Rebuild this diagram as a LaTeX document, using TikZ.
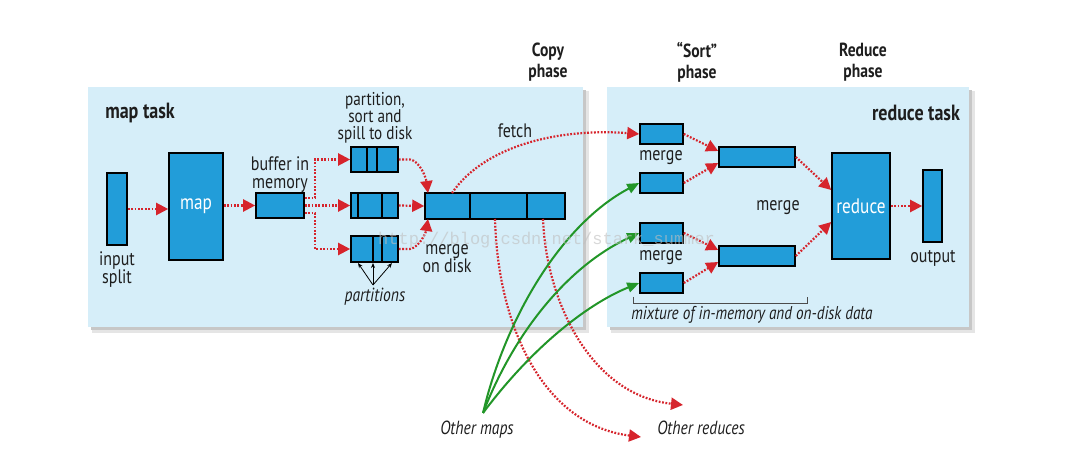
\documentclass[tikz,border=0pt]{standalone}
\usepackage{fontspec}
\setmainfont{PT Sans}[FakeStretch=0.82]
\newfontfamily\wmfont{Liberation Mono}
\usetikzlibrary{arrows.meta}
\definecolor{boxblue}{RGB}{34,157,217}
\definecolor{panel}{RGB}{214,238,249}
\definecolor{arrred}{RGB}{214,36,44}
\definecolor{arrgreen}{RGB}{34,150,40}
\definecolor{txt}{RGB}{30,30,30}
\tikzset{
  bx/.style={draw=black, line width=1.6pt, fill=boxblue, inner sep=0pt},
  lbl/.style={font=\fontsize{19.5}{18}\selectfont, text=txt, align=center, inner sep=0pt},
  lbli/.style={font=\fontsize{19}{18}\selectfont\itshape, text=txt, align=center, inner sep=0pt},
  ttl/.style={font=\fontsize{22}{22}\selectfont\bfseries, text=txt, align=center, inner sep=0pt},
  phs/.style={font=\fontsize{19}{21}\selectfont\bfseries, text=txt, align=center, inner sep=0pt},
  rd/.style={draw=arrred, line width=2.2pt, dash pattern=on 1.8pt off 1.6pt, -{Triangle[length=12pt,width=12pt]}},
  gr/.style={draw=arrgreen, line width=2pt, -{Triangle[length=12pt,width=10pt]}},
  pa/.style={draw=black, line width=0.8pt, -{Stealth[length=5pt,width=4pt]}},
}
\begin{document}
\begin{tikzpicture}[x=1pt,y=-1pt]
\useasboundingbox (0,0) rectangle (1069,457);
\fill[white] (0,0) rectangle (1069,457);
% panels with shadow
\fill[black!10] (92,91) rectangle (589,333);
\fill[black!22] (91,90) rectangle (586,330);
\fill[panel] (88,87) rectangle (583,327);
\fill[black!10] (611,91) rectangle (975,333);
\fill[black!22] (610,90) rectangle (972,330);
\fill[panel] (607,87) rectangle (969,327);

% titles
\node[ttl] (maptask) at (140,113) {map task};
\node[ttl] (redtask) at (916,113) {reduce task};
\node[phs] (copyph) at (548,62) {Copy\\phase};
\node[phs] (sortph) at (697,62) {“Sort”\\phase};
\node[phs] (redph) at (863,62) {Reduce\\phase};

% map side boxes
\node[bx, minimum width=20pt, minimum height=72pt] (input) at (117,209) {};
\node[bx, minimum width=54pt, minimum height=107pt, font=\fontsize{21}{21}\selectfont, text=white] (map) at (196,206.5) {map};
\node[bx, minimum width=48pt, minimum height=25pt] (buffer) at (280,205.5) {};
\node[bx, minimum width=47pt, minimum height=25pt] (sp1) at (374.5,159.5) {};
\node[bx, minimum width=47pt, minimum height=25pt] (sp2) at (374.5,205.5) {};
\node[bx, minimum width=47pt, minimum height=26pt] (sp3) at (374.5,249) {};
\draw[line width=1.6pt] (367,147) -- (367,172) (377,147) -- (377,172);
\draw[line width=1.6pt] (358,193) -- (358,218) (382,193) -- (382,218);
\draw[line width=1.6pt] (373,236) -- (373,262) (382,236) -- (382,262);
\node[bx, minimum width=140pt, minimum height=26pt] (mdisk) at (495,206) {};
\draw[line width=1.6pt] (470,193) -- (470,219) (527,193) -- (527,219);

% map side labels
\node[lbl] (inlbl) at (117,270) {input\\split};
\node[lbl] (buflbl) at (280,175) {buffer in\\memory};
\node[lbl, font=\fontsize{18.5}{17}\selectfont] (splbl) at (375,118) {partition,\\sort and\\spill to disk};
\node[lbl] (fetch) at (515,131) {fetch};
\node[lbl] (mdlbl) at (447,259) {merge\\on disk};
\node[lbli] (parts) at (375,297) {partitions};
\coordinate (pt) at (373,285);
\draw[pa] (pt) -- (358,263);
\draw[pa] (pt) -- (373,263);
\draw[pa] (pt) -- (392,263);

% map side arrows
\draw[rd] (input.east) -- (map.west |- input.east);
\draw[rd] (map.east |- buffer.east) -- (buffer.west);
\coordinate (b1) at (315,198);
\coordinate (b3) at (315,213);
\draw[rd] (buffer.east |- b1) -- (b1) -- (b1 |- sp1.west) -- (sp1.west);
\draw[rd] (buffer.east) -- (sp2.west);
\draw[rd] (buffer.east |- b3) -- (b3) -- (b3 |- sp3.west) -- (sp3.west);
\draw[rd] (sp1.east) -- (410,159.5) .. controls (420,161) and (426,178) .. (428,193);
\draw[rd] (sp2.east) -- (mdisk.west);
\draw[rd] (sp3.east) -- (410,249) .. controls (420,247) and (426,232) .. (428,219);

% reduce side boxes
\node[bx, minimum width=43pt, minimum height=20pt] (r1) at (661.5,134) {};
\node[bx, minimum width=43pt, minimum height=20pt] (r2) at (661.5,183) {};
\node[bx, minimum width=43pt, minimum height=20pt] (r3) at (661.5,233) {};
\node[bx, minimum width=43pt, minimum height=20pt] (r4) at (661.5,283) {};
\node[bx, minimum width=76pt, minimum height=20pt] (m1) at (757,157) {};
\node[bx, minimum width=76pt, minimum height=20pt] (m2) at (757,256) {};
\node[bx, minimum width=58pt, minimum height=106pt, font=\fontsize{21}{21}\selectfont, text=white] (reduce) at (861,206) {reduce};
\node[bx, minimum width=19pt, minimum height=72pt] (output) at (932.5,206) {};

\node[lbl] (mg1) at (661,158) {merge};
\node[lbl] (mg2) at (661,258) {merge};
\node[lbl] (mg3) at (778,208) {merge};
\node[lbl] (outlbl) at (933,258) {output};
\node[lbli, font=\fontsize{18.5}{18}\selectfont\itshape] (mix) at (752,315) {mixture of in-memory and on-disk data};
\draw[line width=0.8pt, black!70] (633,297) -- (633,303) -- (807,303) -- (807,297);

% reduce side arrows
\draw[rd] (r1.east) -- (m1.west |- 0,151);
\draw[rd] (r2.east) -- (m1.west |- 0,163);
\draw[rd] (r3.east) -- (m2.west |- 0,250);
\draw[rd] (r4.east) -- (m2.west |- 0,262);
\draw[rd] (m1.east) -- (reduce.west |- 0,190);
\draw[rd] (m2.east) -- (reduce.west |- 0,222);
\draw[rd] (reduce.east) -- (output.west);

% fetch and other reduces
\draw[rd] (452,193) .. controls (485,145) and (560,128) .. (r1.west);
\node[lbli] (omaps) at (477,430) {Other maps};
\node[lbli] (oreds) at (701,428) {Other reduces};
\draw[rd] (495,219) .. controls (498,330) and (545,425) .. (641,437);
\draw[rd] (543,219) .. controls (546,300) and (590,395) .. (683,405);

% green
\coordinate (om) at (483,413);
\draw[gr] (om) .. controls (505,320) and (560,225) .. (r2.west);
\draw[gr] (om) .. controls (515,330) and (570,265) .. (r3.west);
\draw[gr] (om) .. controls (530,350) and (585,305) .. (r4.west);

% watermark
\node[font=\wmfont\fontsize{17}{17}\selectfont, text=black!25, opacity=0.6, inner sep=0, anchor=west] (wm) at (378,240) {http://blog.csdn.net/stark\_summer};
\end{tikzpicture}
\end{document}
